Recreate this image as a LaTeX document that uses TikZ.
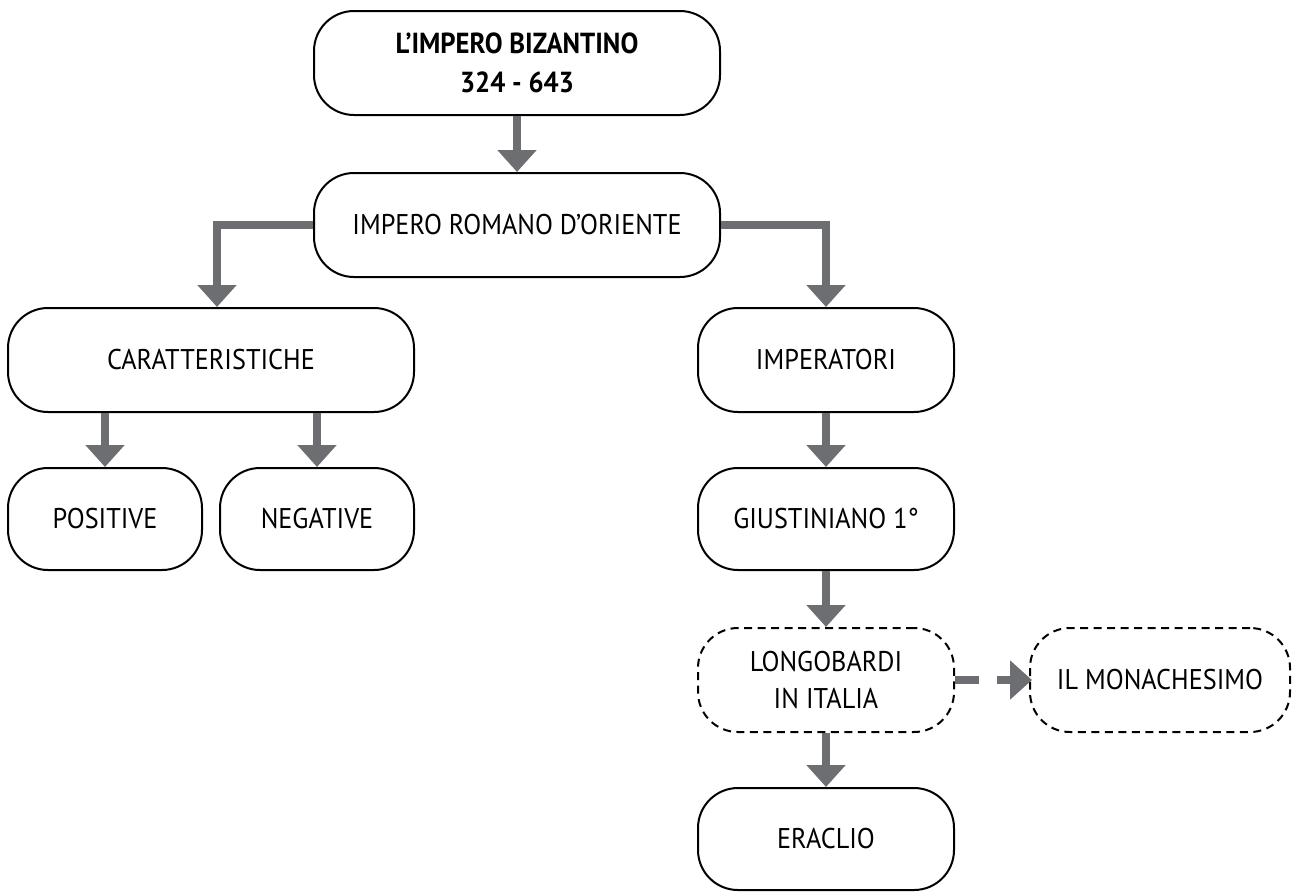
\documentclass[tikz,border=0pt]{standalone}
\usepackage{fontspec}
\setmainfont[FakeStretch=0.92]{PT Sans}
\usetikzlibrary{arrows.meta}
\definecolor{arrgray}{HTML}{6D6E71}
\tikzset{
  box/.style={draw=black, line width=2pt, rounded corners=40pt, align=center,
    minimum width=256pt, minimum height=104pt, inner sep=0pt,
    font=\fontsize{28.5}{37}\selectfont},
  dbox/.style={box, dash pattern=on 8pt off 5.5pt},
  conn/.style={draw=arrgray, line width=8pt,
    -{Triangle[width=38pt,length=22pt]}},
}
\begin{document}
\begin{tikzpicture}[x=1pt,y=-1pt]
\useasboundingbox (0,0) rectangle (1298,892);
\node[box, minimum width=406pt, font=\bfseries\fontsize{29}{39}\selectfont] (top) at (517,63) {L’IMPERO BIZANTINO\\324 - 643};
\node[box, minimum width=406pt] (orient) at (517,225) {IMPERO ROMANO D’ORIENTE};
\node[box, minimum width=406pt] (car) at (211,360) {CARATTERISTICHE};
\node[box] (imp) at (826,360) {IMPERATORI};
\node[box, minimum width=194pt, minimum height=102pt] (pos) at (105,519) {POSITIVE};
\node[box, minimum width=194pt, minimum height=102pt] (neg) at (317,519) {NEGATIVE};
\node[box, minimum height=102pt] (giu) at (826,519) {GIUSTINIANO 1°};
\node[dbox] (lon) at (826,680) {LONGOBARDI\\IN ITALIA};
\node[dbox, minimum width=260pt] (mon) at (1160,680) {IL MONACHESIMO};
\node[box, minimum height=102pt] (era) at (826,839) {ERACLIO};
\coordinate (cl) at (217,225);
\draw[conn] (top) -- (orient);
\draw[conn] (orient.west) -- (cl) -- (cl |- car.north);
\draw[conn] (orient.east) -| (imp.north);
\draw[conn] (car.south -| pos.north) -- (pos.north);
\draw[conn] (car.south -| neg.north) -- (neg.north);
\draw[conn] (imp) -- (giu);
\draw[conn] (giu) -- (lon);
\draw[conn] (lon) -- (era);
\draw[conn, dash pattern=on 24pt off 18pt] (lon.east) -- ([xshift=3pt]mon.west);
\end{tikzpicture}
\end{document}
